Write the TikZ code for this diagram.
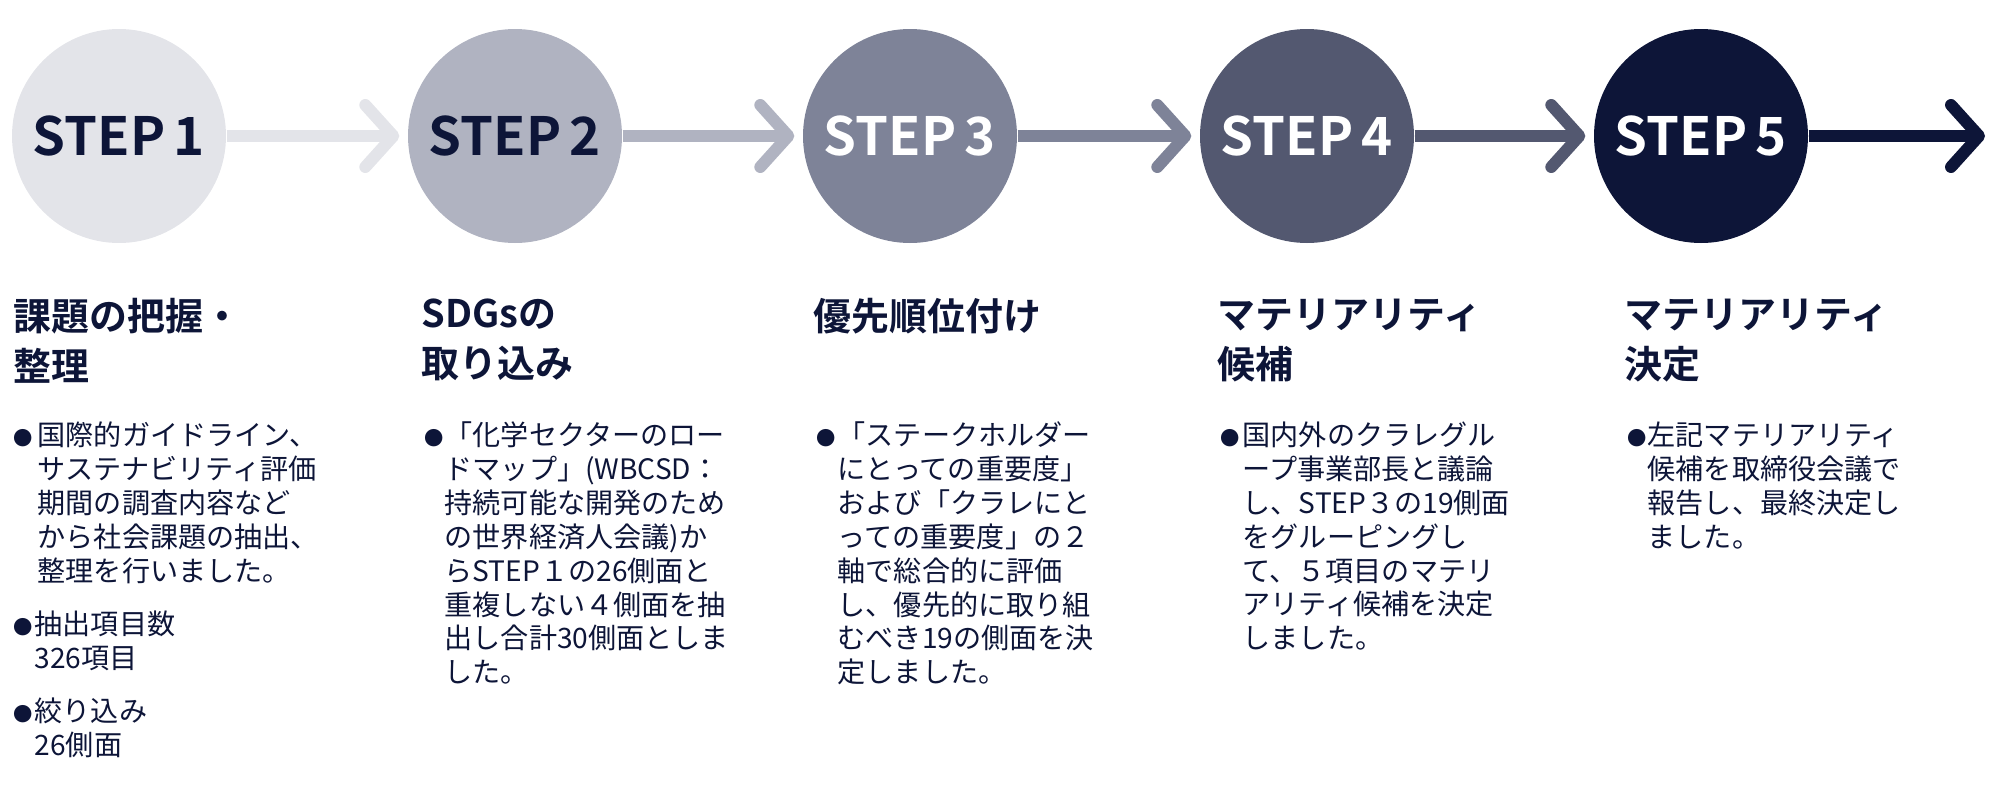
\documentclass[tikz,border=0pt]{standalone}
\usepackage{fontspec}
\setmainfont{Noto Sans CJK JP}[BoldFont={Noto Sans CJK JP Bold}]
\usetikzlibrary{arrows.meta,positioning}
\definecolor{stepA}{HTML}{E3E4E9}
\definecolor{stepB}{HTML}{B0B3C1}
\definecolor{stepC}{HTML}{7E8398}
\definecolor{stepD}{HTML}{535870}
\definecolor{stepE}{HTML}{0D1538}
\tikzset{
 stepnode/.style={circle,minimum size=2.14cm,inner sep=0pt,font=\fontsize{15}{15}\selectfont\bfseries},
 flow/.style={line width=0.12cm,-{Straight Barb[length=0.28cm,width=0.62cm,round]}},
 title/.style={anchor=north west,inner sep=0pt,align=left,text=stepE,font=\fontsize{10.8}{14.2}\selectfont\bfseries},
 body/.style={anchor=north west,inner sep=0pt,align=left,text=stepE,font=\fontsize{8}{9.65}\selectfont},
 dot/.style={anchor=west,inner sep=0pt,text=stepE,font=\fontsize{5.5}{6}\selectfont}
}
\begin{document}
\begin{tikzpicture}
\useasboundingbox (0,0) rectangle (20,-7.88);
%Circles
\node[stepnode,fill=stepA,text=stepE] (s1) at (1.19,-1.36) {STEP\,1};
\node[stepnode,fill=stepB,text=stepE] (s2) at (5.15,-1.36) {STEP\,2};
\node[stepnode,fill=stepC,text=white] (s3) at (9.10,-1.36) {STEP\,3};
\node[stepnode,fill=stepD,text=white] (s4) at (13.07,-1.36) {STEP\,4};
\node[stepnode,fill=stepE,text=white] (s5) at (17.01,-1.36) {STEP\,5};
\coordinate (end) at (19.85,-1.36);

%Arrows
\draw[flow,stepA] (s1.east) -- ([xshift=-0.08cm]s2.west);
\draw[flow,stepB] (s2.east) -- ([xshift=-0.08cm]s3.west);
\draw[flow,stepC] (s3.east) -- ([xshift=-0.08cm]s4.west);
\draw[flow,stepD] (s4.east) -- ([xshift=-0.08cm]s5.west);
\draw[flow,stepE] (s5.east) -- (end);

%Titles
\node[title] (t1) at (0.13,-2.98) {課題の把握・\\整理};
\node[title] (t2) at (4.21,-2.98) {SDGsの\\取り込み};
\node[title] (t3) at (8.13,-2.98) {優先順位付け};
\node[title] (t4) at (12.17,-2.98) {マテリアリティ\\候補};
\node[title] (t5) at (16.24,-2.98) {マテリアリティ\\決定};

%Texts
\node[dot] (d1a) at (0.13,-4.38) {●};
\node[body] (b1a) at (0.37,-4.21) {国際的ガイドライン、\\サステナビリティ評価\\期間の調査内容など\\から社会課題の抽出、\\整理を行いました。};
\node[dot] (d1b) at (0.13,-6.27) {●};
\node[body] (b1b) at (0.34,-6.10) {抽出項目数\\326項目};
\node[dot] (d1c) at (0.13,-7.14) {●};
\node[body] (b1c) at (0.34,-6.97) {絞り込み\\26側面};
\node[dot] (d2) at (4.24,-4.38) {●};
\node[body] (b2) at (4.44,-4.21) {「化学セクターのロー\\ドマップ」(WBCSD：\\持続可能な開発のため\\の世界経済人会議)か\\らSTEP１の26側面と\\重複しない４側面を抽\\出し合計30側面としま\\した。};
\node[dot] (d3) at (8.16,-4.38) {●};
\node[body] (b3) at (8.37,-4.21) {「ステークホルダー\\にとっての重要度」\\および「クラレにと\\っての重要度」の２\\軸で総合的に評価\\し、優先的に取り組\\むべき19の側面を決\\定しました。};
\node[dot] (d4) at (12.20,-4.38) {●};
\node[body] (b4) at (12.42,-4.21) {国内外のクラレグル\\ープ事業部長と議論\\し、STEP３の19側面\\をグルーピングし\\て、５項目のマテリ\\アリティ候補を決定\\しました。};
\node[dot] (d5) at (16.27,-4.38) {●};
\node[body] (b5) at (16.47,-4.21) {左記マテリアリティ\\候補を取締役会議で\\報告し、最終決定し\\ました。};
\end{tikzpicture}
\end{document}
